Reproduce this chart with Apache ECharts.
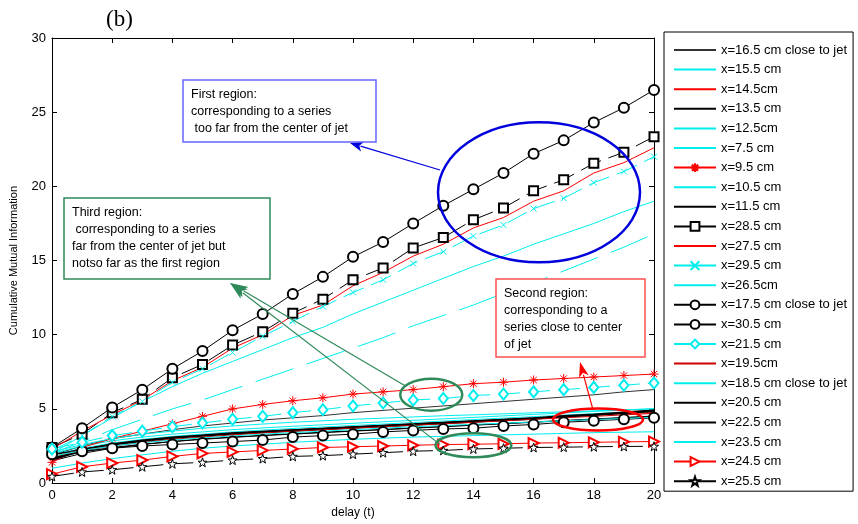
<!DOCTYPE html>
<html>
<head>
<meta charset="utf-8">
<script src="https://cdn.jsdelivr.net/npm/echarts@6/dist/echarts.min.js"></script>
<style>
  html, body { margin: 0; padding: 0; background: #fff; }
  #main { width: 858px; height: 524px; }
</style>
</head>
<body>
<div id="main"></div>
<script>
// delay axis
var delay = [0, 1, 2, 3, 4, 5, 6, 7, 8, 9, 10, 11, 12, 13, 14, 15, 16, 17, 18, 19, 20];
var xTicks = [0, 2, 4, 6, 8, 10, 12, 14, 16, 18, 20];
var yTicks = [0, 5, 10, 15, 20, 25, 30];

// series values
var x16_5 = [1.9, 2.5, 3.0, 3.3, 3.6, 3.85, 4.05, 4.25, 4.4, 4.55, 4.75, 4.9, 5.05, 5.2, 5.35, 5.5, 5.65, 5.8, 5.95, 6.15, 6.3];
var x15_5 = [2.0, 3.2, 4.4, 5.5, 6.5, 7.4, 8.2, 9.0, 9.8, 10.5, 11.4, 12.2, 13.0, 13.8, 14.6, 15.3, 16.1, 16.8, 17.5, 18.3, 19.0];
var x14_5 = [1.7, 2.3, 2.65, 2.9, 3.1, 3.25, 3.4, 3.5, 3.6, 3.7, 3.8, 3.9, 4.0, 4.1, 4.2, 4.3, 4.4, 4.5, 4.6, 4.68, 4.76];
var x13_5 = [1.5, 2.0, 2.35, 2.6, 2.8, 2.98, 3.1, 3.22, 3.33, 3.43, 3.52, 3.62, 3.72, 3.82, 3.92, 4.02, 4.12, 4.22, 4.32, 4.42, 4.52];
var x12_5 = [2.0, 2.5, 2.85, 3.1, 3.3, 3.45, 3.6, 3.72, 3.83, 3.93, 4.03, 4.13, 4.23, 4.33, 4.43, 4.53, 4.63, 4.73, 4.83, 4.92, 5.02];
var x7_5 = [1.9, 2.35, 2.7, 2.95, 3.15, 3.3, 3.45, 3.57, 3.68, 3.78, 3.88, 3.98, 4.08, 4.18, 4.28, 4.38, 4.48, 4.58, 4.68, 4.78, 4.88];
var x9_5 = [1.4, 2.4, 3.0, 3.5, 4.0, 4.5, 5.0, 5.3, 5.55, 5.75, 6.0, 6.15, 6.3, 6.5, 6.7, 6.8, 6.95, 7.05, 7.15, 7.25, 7.35];
var x10_5 = [1.0, 1.35, 1.65, 1.9, 2.15, 2.35, 2.5, 2.62, 2.75, 2.85, 2.95, 3.03, 3.1, 3.15, 3.2, 3.25, 3.3, 3.35, 3.4, 3.43, 3.46];
var x11_5 = [1.6, 2.2, 2.6, 2.85, 3.05, 3.2, 3.35, 3.45, 3.55, 3.65, 3.75, 3.85, 3.95, 4.05, 4.15, 4.25, 4.35, 4.5, 4.6, 4.75, 4.9];
var x28_5 = [2.4, 3.3, 4.75, 5.65, 7.1, 8.0, 9.3, 10.2, 11.45, 12.4, 13.7, 14.5, 15.85, 16.55, 17.75, 18.55, 19.7, 20.45, 21.55, 22.3, 23.35];
var x27_5 = [2.3, 3.5, 4.6, 5.6, 6.9, 7.8, 9.1, 10.0, 11.3, 12.0, 13.3, 14.2, 15.3, 16.1, 17.2, 17.9, 19.0, 19.7, 20.9, 21.6, 22.6];
var x29_5 = [2.2, 3.2, 4.5, 5.5, 6.8, 7.7, 8.8, 9.9, 10.9, 11.9, 12.85, 13.7, 14.8, 15.6, 16.65, 17.4, 18.5, 19.2, 20.25, 21.0, 22.0];
var x26_5 = [2.0, 2.8, 3.6, 4.3, 5.0, 5.6, 6.3, 7.0, 7.7, 8.4, 9.1, 9.8, 10.6, 11.3, 12.0, 12.8, 13.5, 14.3, 15.1, 15.9, 16.8];
var x17_5 = [2.4, 3.7, 5.1, 6.3, 7.7, 8.9, 10.3, 11.4, 12.75, 13.9, 15.25, 16.25, 17.5, 18.7, 19.8, 20.9, 22.2, 23.1, 24.3, 25.3, 26.5];
var x30_5 = [1.95, 2.15, 2.35, 2.5, 2.6, 2.7, 2.8, 2.9, 3.1, 3.2, 3.3, 3.45, 3.55, 3.65, 3.7, 3.85, 3.95, 4.1, 4.2, 4.3, 4.4];
var x21_5 = [2.3, 2.75, 3.2, 3.5, 3.8, 4.05, 4.3, 4.5, 4.75, 4.95, 5.2, 5.4, 5.6, 5.7, 5.9, 6.0, 6.15, 6.3, 6.45, 6.6, 6.75];
var x19_5 = [1.8, 2.2, 2.5, 2.75, 2.95, 3.1, 3.25, 3.38, 3.5, 3.6, 3.7, 3.8, 3.9, 4.0, 4.1, 4.2, 4.3, 4.4, 4.5, 4.6, 4.7];
var x18_5 = [2.1, 2.6, 3.0, 3.3, 3.5, 3.7, 3.85, 3.98, 4.1, 4.2, 4.3, 4.38, 4.46, 4.54, 4.6, 4.67, 4.74, 4.8, 4.87, 4.94, 5.0];
var x20_5 = [1.7, 2.1, 2.4, 2.62, 2.8, 2.95, 3.08, 3.2, 3.3, 3.4, 3.5, 3.6, 3.7, 3.8, 3.9, 4.0, 4.1, 4.2, 4.3, 4.4, 4.5];
var x22_5 = [1.9, 2.3, 2.6, 2.85, 3.05, 3.2, 3.35, 3.47, 3.58, 3.68, 3.78, 3.88, 3.98, 4.08, 4.18, 4.28, 4.38, 4.48, 4.58, 4.7, 4.82];
var x23_5 = [1.8, 2.2, 2.5, 2.72, 2.9, 3.05, 3.18, 3.3, 3.4, 3.5, 3.6, 3.7, 3.8, 3.88, 3.96, 4.04, 4.12, 4.2, 4.28, 4.36, 4.44];
var x24_5 = [0.6, 1.1, 1.35, 1.55, 1.8, 2.0, 2.1, 2.2, 2.3, 2.4, 2.45, 2.5, 2.55, 2.6, 2.62, 2.65, 2.7, 2.72, 2.75, 2.78, 2.8];
var x25_5 = [0.45, 0.75, 0.9, 1.1, 1.3, 1.4, 1.55, 1.65, 1.8, 1.85, 1.95, 2.05, 2.15, 2.2, 2.3, 2.35, 2.4, 2.42, 2.45, 2.47, 2.48];

var CYAN = '#00eeee', RED = '#ff0000', BLACK = '#000000';
var FONT = 'Arial, "Liberation Sans", sans-serif';

var starPath = 'path://M0,-10L2.35,-3.24L9.51,-3.09L3.8,1.24L5.88,8.09L0,4L-5.88,8.09L-3.8,1.24L-9.51,-3.09L-2.35,-3.24Z';
var asteriskPath = 'path://M0,-10L0,10M-10,0L10,0M-7,-7L7,7M-7,7L7,-7';
var crossPath = 'path://M-10,-10L10,10M-10,10L10,-10';

function mk(name, vals, color, o) {
  o = o || {};
  return {
    name: name,
    type: 'line',
    data: vals.map(function (v, i) { return [delay[i], v]; }),
    symbol: o.symbol || 'none',
    symbolSize: o.size || 8,
    symbolRotate: o.rotate || 0,
    showSymbol: !!o.symbol,
    lineStyle: { color: color, width: o.width || 1, type: o.dash || 'solid' },
    itemStyle: { color: o.fill || color, borderColor: color, borderWidth: 1 },
    emphasis: { disabled: true },
    z: o.z || 2
  };
}

var series = [
  mk('x=16.5 cm close to jet', x16_5, '#333333'),
  mk('x=15.5 cm', x15_5, CYAN),
  mk('x=14.5cm', x14_5, RED),
  mk('x=13.5 cm', x13_5, BLACK),
  mk('x=12.5cm', x12_5, CYAN),
  mk('x=7.5 cm', x7_5, CYAN),
  mk('x=9.5 cm', x9_5, RED, { symbol: asteriskPath, size: 9 }),
  mk('x=10.5 cm', x10_5, CYAN),
  mk('x=11.5 cm', x11_5, BLACK, { width: 2.5 }),
  mk('x=28.5 cm', x28_5, BLACK, { symbol: 'emptyRect', size: 9, dash: [22, 8] }),
  mk('x=27.5 cm', x27_5, RED),
  mk('x=29.5 cm', x29_5, CYAN, { symbol: crossPath, size: 6, dash: [22, 8] }),
  mk('x=26.5cm', x26_5, CYAN, { dash: [40, 14] }),
  mk('x=17.5 cm close to jet', x17_5, BLACK, { symbol: 'emptyCircle', size: 10 }),
  mk('x=30.5 cm', x30_5, BLACK, { symbol: 'emptyCircle', size: 10 }),
  mk('x=21.5 cm', x21_5, CYAN, { symbol: 'emptyDiamond', size: [9, 11], dash: [22, 8] }),
  mk('x=19.5cm', x19_5, '#cc0000'),
  mk('x=18.5 cm close to jet', x18_5, CYAN),
  mk('x=20.5 cm', x20_5, BLACK),
  mk('x=22.5 cm', x22_5, BLACK),
  mk('x=23.5 cm', x23_5, CYAN),
  mk('x=24.5 cm', x24_5, RED, { symbol: 'emptyTriangle', size: 10, rotate: -90 }),
  mk('x=25.5 cm', x25_5, BLACK, { symbol: starPath, size: 9, fill: '#ffffff', dash: [22, 8] })
];

// legend entries: hide the default marker for series drawn as plain lines
var legendData = series.map(function (s) {
  var item = { name: s.name };
  if (s.symbol === 'none') item.itemStyle = { opacity: 0 };
  return item;
});

function valueAxis(pos, min, max, step, labels, extra) {
  var ax = {
    type: 'value', position: pos, min: min, max: max, interval: step,
    axisLine: { show: true, onZero: false, lineStyle: { color: '#000', width: 1 } },
    axisTick: { show: true, inside: true, length: 5, lineStyle: { color: '#000' } },
    axisLabel: { show: labels, color: '#000', fontSize: 13, fontFamily: FONT, margin: 6 },
    splitLine: { show: false }
  };
  for (var k in extra) ax[k] = extra[k];
  return ax;
}

var chart = echarts.init(document.getElementById('main'), null, { renderer: 'canvas' });
chart.setOption({
  animation: false,
  backgroundColor: '#fff',
  title: {
    text: '(b)', left: 101, top: 3,
    textStyle: { fontFamily: '"Times New Roman", "Liberation Serif", serif', fontSize: 23, fontWeight: 'normal', color: '#000' }
  },
  grid: { left: 52, right: 204, top: 38, bottom: 38 },
  xAxis: [
    valueAxis('bottom', xTicks[0], xTicks[xTicks.length - 1], 2, true, {
      name: 'delay (t)', nameLocation: 'middle', nameGap: 20,
      nameTextStyle: { color: '#000', fontSize: 12, fontFamily: FONT }
    }),
    valueAxis('top', xTicks[0], xTicks[xTicks.length - 1], 2, false, {})
  ],
  yAxis: [
    valueAxis('left', yTicks[0], yTicks[yTicks.length - 1], 5, true, {
      name: 'Cumulative Mutual Information', nameLocation: 'middle', nameGap: 33,
      nameTextStyle: { color: '#000', fontSize: 11, fontFamily: FONT }
    }),
    valueAxis('right', yTicks[0], yTicks[yTicks.length - 1], 5, false, {})
  ],
  legend: {
    orient: 'vertical', left: 664, top: 32,
    padding: [11, 6, 3, 9],
    itemWidth: 42, itemHeight: 11, itemGap: 5.6,
    borderColor: '#000', borderWidth: 1, backgroundColor: '#fff',
    selectedMode: false,
    lineStyle: { type: 'solid' },
    textStyle: { color: '#000', fontSize: 13, fontFamily: FONT, lineHeight: 14 },
    data: legendData
  },
  series: series
});

// annotations (boxes in pixels, ellipses and arrow tails anchored to data)
function px(x, y) { return chart.convertToPixel({ gridIndex: 0 }, [x, y]); }

function arrow(from, to, color, w, headLen, headW) {
  var dx = to[0] - from[0], dy = to[1] - from[1];
  var L = Math.sqrt(dx * dx + dy * dy), ux = dx / L, uy = dy / L;
  var bx = to[0] - ux * headLen, by = to[1] - uy * headLen;
  return [
    { type: 'line', shape: { x1: from[0], y1: from[1], x2: bx + ux * 2, y2: by + uy * 2 }, style: { stroke: color, lineWidth: w }, z: 20 },
    { type: 'polygon', shape: { points: [to, [bx - uy * headW, by + ux * headW], [bx + ux * headLen * 0.25, by + uy * headLen * 0.25], [bx + uy * headW, by - ux * headW]] },
      style: { fill: color }, z: 20 }
  ];
}

function ellipse(c, rx, ry, color) {
  var p = px(c[0], c[1]);
  return { type: 'ellipse', shape: { cx: p[0], cy: p[1], rx: rx, ry: ry }, style: { fill: 'none', stroke: color, lineWidth: 2.5 }, z: 20 };
}

function box(x, y, w, h, color, lines) {
  return [
    { type: 'rect', shape: { x: x, y: y, width: w, height: h }, style: { fill: '#fff', stroke: color, lineWidth: 1.5 }, z: 21 },
    { type: 'text', x: x + 8, y: y + 6, style: { text: lines.join('\n'), font: '12.5px ' + FONT, fill: '#000', lineHeight: 17 }, z: 22 }
  ];
}

var BLUE = '#0000dd', GREEN = '#2f8a5a', BOXBLUE = '#6666ff', BOXRED = '#ff5050';
var g = [];
g.push(ellipse([16.18, 19.6], 101, 70, BLUE));
g.push(ellipse([12.6, 5.96], 31, 16, GREEN));
g.push(ellipse([14.0, 2.55], 38, 12, GREEN));
g.push(ellipse([18.14, 4.29], 45, 11, RED));
g = g.concat(arrow(px(12.89, 21.1), [350, 143], BLUE, 1.2, 13, 5));
g = g.concat(arrow(px(11.73, 6.56), [230, 283], GREEN, 1.2, 18, 6));
g = g.concat(arrow(px(12.89, 2.61), [230, 283], GREEN, 1.2, 18, 6));
g = g.concat(arrow(px(17.97, 4.96), [580, 362], RED, 1.2, 15, 5));
g = g.concat(box(183, 80, 193, 62, BOXBLUE, ['First region:', 'corresponding to a series', ' too far from the center of jet']));
g = g.concat(box(64, 198, 206, 81, GREEN, ['Third region:', ' corresponding to a series', 'far from the center of jet but', 'notso far as the first region']));
g = g.concat(box(496, 279, 149, 78, BOXRED, ['Second region:', 'corresponding to a', 'series close to center', 'of jet']));
chart.setOption({ graphic: g });
</script>
</body>
</html>
